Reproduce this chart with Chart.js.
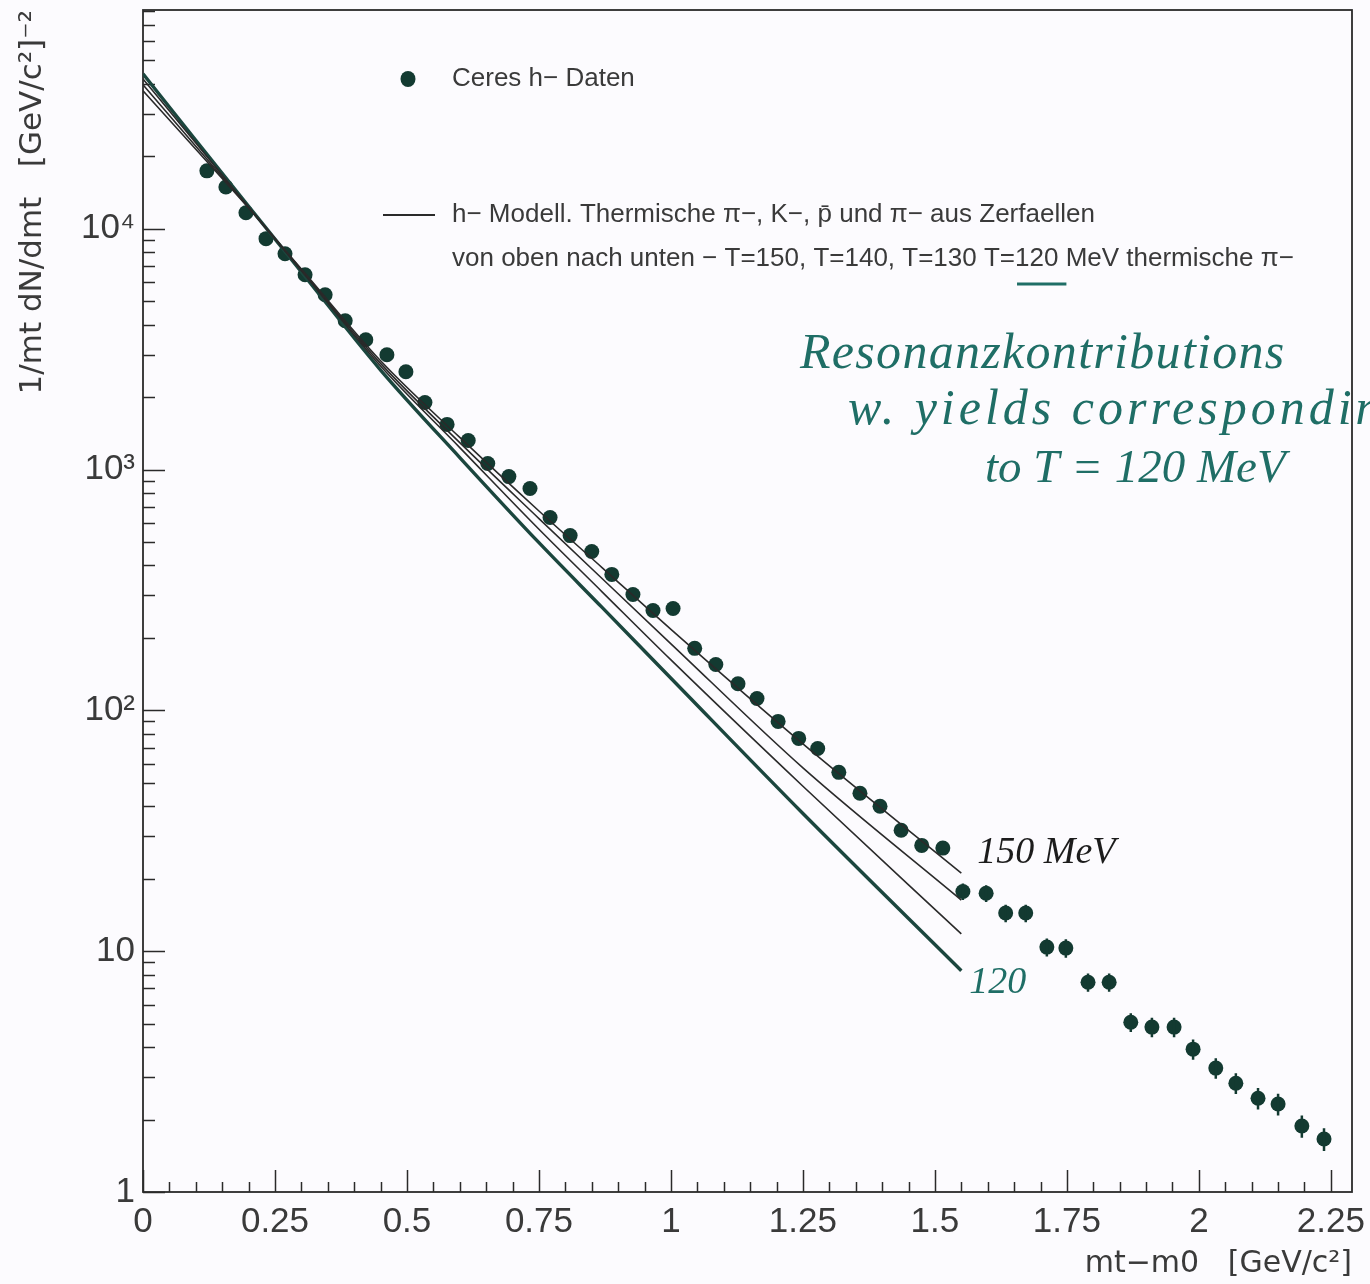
<!DOCTYPE html>
<html>
<head>
<meta charset="utf-8">
<script src="https://cdn.jsdelivr.net/npm/chart.js@4.4.1/dist/chart.umd.min.js"></script>
<style>
  html, body { margin: 0; padding: 0; background: #fcfbfe; }
  canvas { display: block; }
</style>
</head>
<body>
<canvas id="spectrum" width="1370" height="1284"></canvas>
<script>
// ---- axis ticks ----
const xTickValues = [0, 0.25, 0.5, 0.75, 1, 1.25, 1.5, 1.75, 2, 2.25];
const xTickLabels = ['0', '0.25', '0.5', '0.75', '1', '1.25', '1.5', '1.75', '2', '2.25'];
const yTickValues = [1, 10, 100, 1000, 10000];
const yTickLabels = ['1', '10', '10²', '10³', '10⁴'];

// ---- CERES h- data: mt-m0 [GeV/c^2], 1/mt dN/dmt, error ----
const ceresX = [0.121, 0.157, 0.195, 0.233, 0.269, 0.307, 0.345, 0.383, 0.422, 0.462,
                0.498, 0.534, 0.576, 0.616, 0.653, 0.693, 0.733, 0.771, 0.809, 0.850,
                0.888, 0.928, 0.966, 1.004, 1.045, 1.085, 1.127, 1.163, 1.203, 1.242,
                1.278, 1.318, 1.358, 1.396, 1.436, 1.475, 1.515, 1.553, 1.597, 1.634,
                1.672, 1.712, 1.748, 1.790, 1.830, 1.871, 1.911, 1.953, 1.989, 2.032,
                2.070, 2.112, 2.150, 2.195, 2.237];
const ceresY = [17400, 14900, 11650, 9100, 7870, 6440, 5320, 4150, 3460, 3000,
                2550, 1900, 1540, 1320, 1060, 935, 834, 632, 532, 457,
                367, 303, 260, 265, 181, 155, 129, 112, 90, 76.5,
                69.5, 55.3, 45.3, 40, 31.8, 27.5, 26.8, 17.7, 17.4, 14.4,
                14.4, 10.4, 10.3, 7.43, 7.43, 5.07, 4.84, 4.84, 3.92, 3.27,
                2.83, 2.45, 2.32, 1.88, 1.66];
const ceresErr = [0, 0, 0, 0, 0, 0, 0, 0, 0, 0,
                  0, 0, 0, 0, 0, 0, 0, 0, 0, 0,
                  0, 0, 0, 0, 0, 0, 0, 0, 0, 0,
                  0, 0, 0, 0, 0, 0, 0, 1.4, 1.4, 1.2,
                  1.2, 0.9, 0.9, 0.65, 0.65, 0.45, 0.45, 0.45, 0.38, 0.32,
                  0.28, 0.25, 0.24, 0.2, 0.18];

// ---- h- model: thermal pi-, K-, pbar plus pi- from resonance decays ----
const modelX    = [0, 0.1, 0.2, 0.3, 0.45, 0.6, 0.75, 0.87, 1.0, 1.25, 1.55];
const modelT150 = [37400, 21400, 12200, 6800, 2830, 1360, 673, 391, 217, 72.6, 21.1];
const modelT140 = [39600, 22000, 12250, 6750, 2760, 1294, 626, 352, 189, 57.7, 16.3];
const modelT130 = [41900, 22700, 12300, 6700, 2690, 1234, 565, 310, 162, 48.4, 11.8];
const modelT120 = [44000, 23300, 12400, 6620, 2590, 1122, 497, 267, 136, 37.3, 8.3];

const legendData  = 'Ceres h\u2212 Daten';
const legendModel = 'h\u2212 Modell. Thermische \u03C0\u2212, K\u2212, p\u0304 und \u03C0\u2212 aus Zerfaellen';
const legendOrderPrefix = 'von oben nach unten \u2212 T=150, T=140, T=130 T=';
const legendOrderMark   = '120';
const legendOrderSuffix = ' MeV thermische \u03C0\u2212';

const noteLines = ['Resonanzkontributions', 'w. yields corresponding', 'to T = 120 MeV'];
const noteTop = '150 MeV';
const noteBottom = '120';

const INK = '#2a2a2a';
const TEXT = '#3a3a3a';
const DOT = '#133a31';
const PEN = '#1f6e66';
const FONT = '"Liberation Sans", Arial, sans-serif';
const WIDE = '"DejaVu Sans", Verdana, sans-serif';
const HAND = '"Liberation Serif", "DejaVu Serif", serif';

const pts = (xs, ys) => xs.map((x, i) => ({ x: x, y: ys[i] }));

const modelLine = (ys, color, width) => ({
  type: 'line',
  data: pts(modelX, ys),
  borderColor: color,
  borderWidth: width,
  pointRadius: 0,
  fill: false,
  tension: 0.4,
  cubicInterpolationMode: 'monotone'
});

// Frame plus inward-pointing major/minor ticks on the bottom and left axes
const framePlugin = {
  id: 'frame',
  beforeDatasetsDraw(chart) {
    const { ctx, chartArea: a, scales: { x, y } } = chart;
    ctx.save();
    ctx.strokeStyle = INK;
    ctx.lineWidth = 1.8;
    ctx.strokeRect(a.left, a.top, a.right - a.left, a.bottom - a.top);
    ctx.lineWidth = 1.5;
    ctx.beginPath();
    for (let k = 0; k * 0.05 <= x.max + 1e-9; k++) {
      const px = Math.round(x.getPixelForValue(k * 0.05)) + 0.5;
      const len = k % 5 === 0 ? 22 : 10;
      ctx.moveTo(px, a.bottom);
      ctx.lineTo(px, a.bottom - len);
    }
    for (let d = 0; d <= 4; d++) {
      for (let m = 1; m <= 9; m++) {
        const v = m * Math.pow(10, d);
        if (v > y.max) continue;
        const py = Math.round(y.getPixelForValue(v)) + 0.5;
        const len = m === 1 ? 22 : 12;
        ctx.moveTo(a.left, py);
        ctx.lineTo(a.left + len, py);
      }
    }
    ctx.stroke();
    ctx.restore();
  }
};

// Vertical error bars on the data points
const errorBarPlugin = {
  id: 'errorBars',
  afterDatasetsDraw(chart) {
    const { ctx, scales: { x, y } } = chart;
    ctx.save();
    ctx.strokeStyle = DOT;
    ctx.lineWidth = 2.5;
    ctx.beginPath();
    ceresX.forEach((vx, i) => {
      const e = ceresErr[i];
      if (!e) return;
      const px = x.getPixelForValue(vx);
      ctx.moveTo(px, y.getPixelForValue(ceresY[i] - e));
      ctx.lineTo(px, y.getPixelForValue(ceresY[i] + e));
    });
    ctx.stroke();
    ctx.restore();
  }
};

// Legend block and pen notes
const notesPlugin = {
  id: 'notes',
  afterDraw(chart) {
    const { ctx, chartArea: a, scales: { x, y } } = chart;
    ctx.save();
    // legend
    ctx.fillStyle = DOT;
    ctx.beginPath();
    ctx.ellipse(a.left + 265, a.top + 69, 7.5, 8, 0, 0, Math.PI * 2);
    ctx.fill();
    ctx.fillStyle = TEXT;
    ctx.font = '26px ' + FONT;
    ctx.textBaseline = 'middle';
    ctx.textAlign = 'left';
    const tx = a.left + 309;
    ctx.fillText(legendData, tx, a.top + 69);
    ctx.strokeStyle = INK;
    ctx.lineWidth = 1.8;
    ctx.beginPath();
    ctx.moveTo(a.left + 240, a.top + 205);
    ctx.lineTo(a.left + 292, a.top + 205);
    ctx.stroke();
    ctx.fillText(legendModel, tx, a.top + 205);
    ctx.fillText(legendOrderPrefix + legendOrderMark + legendOrderSuffix, tx, a.top + 249);
    const u0 = tx + ctx.measureText(legendOrderPrefix).width;
    const u1 = u0 + ctx.measureText(legendOrderMark).width;
    ctx.strokeStyle = PEN;
    ctx.lineWidth = 3;
    ctx.beginPath();
    ctx.moveTo(u0 + 2, a.top + 274);
    ctx.lineTo(u1 + 8, a.top + 274);
    ctx.stroke();

    // pen annotations
    ctx.textBaseline = 'alphabetic';
    ctx.fillStyle = PEN;
    ctx.font = 'italic 50px ' + HAND;
    ctx.letterSpacing = '1.3px';
    ctx.fillText(noteLines[0], 800, 368);
    ctx.letterSpacing = '4px';
    ctx.fillText(noteLines[1], 848, 424);
    ctx.letterSpacing = '0px';
    ctx.font = 'italic 47px ' + HAND;
    ctx.fillText(noteLines[2], 985, 482);

    const lastX = x.getPixelForValue(modelX[modelX.length - 1]);
    ctx.fillStyle = '#1c1c1c';
    ctx.font = 'italic 38px ' + HAND;
    ctx.fillText(noteTop, lastX + 16, y.getPixelForValue(modelT150[modelT150.length - 1]) - 10);
    ctx.fillStyle = PEN;
    ctx.fillText(noteBottom, lastX + 8, y.getPixelForValue(modelT120[modelT120.length - 1]) + 22);
    ctx.restore();
  }
};

new Chart(document.getElementById('spectrum'), {
  type: 'scatter',
  data: {
    datasets: [
      modelLine(modelT150, INK, 1.6),
      modelLine(modelT140, INK, 1.6),
      modelLine(modelT130, INK, 1.6),
      modelLine(modelT120, '#1b463e', 3.4),
      {
        type: 'scatter',
        data: pts(ceresX, ceresY),
        pointRadius: 7.5,
        pointHoverRadius: 7.5,
        backgroundColor: DOT,
        borderWidth: 0
      }
    ]
  },
  options: {
    responsive: false,
    devicePixelRatio: 1,
    animation: false,
    events: [],
    layout: { padding: { top: 10, right: 18, left: 0, bottom: 0 } },
    plugins: { legend: { display: false }, tooltip: { enabled: false } },
    scales: {
      x: {
        type: 'linear',
        min: 0,
        max: 2.29,
        grid: { display: false, drawTicks: false },
        border: { display: false },
        afterBuildTicks(scale) { scale.ticks = xTickValues.map(v => ({ value: v })); },
        afterFit(scale) {
          scale.height = 92;
          scale.paddingLeft = 0; scale.paddingRight = 0;
          scale.paddingTop = 0; scale.paddingBottom = 0;
        },
        ticks: {
          autoSkip: false,
          maxRotation: 0,
          padding: 9,
          color: TEXT,
          font: { family: FONT, size: 35 },
          callback(v) { const i = xTickValues.indexOf(v); return i >= 0 ? xTickLabels[i] : ''; }
        },
        title: {
          display: true,
          text: 'mt\u2212m0   [GeV/c\u00B2]',
          align: 'end',
          color: TEXT,
          font: { family: WIDE, size: 30 },
          padding: { top: 0, bottom: 2 }
        }
      },
      y: {
        type: 'logarithmic',
        min: 1,
        max: 81000,
        grid: { display: false, drawTicks: false },
        border: { display: false },
        afterBuildTicks(scale) { scale.ticks = yTickValues.map(v => ({ value: v })); },
        afterFit(scale) {
          scale.width = 143;
          scale.paddingLeft = 0; scale.paddingRight = 0;
          scale.paddingTop = 0; scale.paddingBottom = 0;
        },
        ticks: {
          autoSkip: false,
          padding: 8,
          color: TEXT,
          font: { family: FONT, size: 35 },
          callback(v) { const i = yTickValues.indexOf(v); return i >= 0 ? yTickLabels[i] : ''; }
        },
        title: {
          display: true,
          text: '1/mt dN/dmt   [GeV/c\u00B2]\u207B\u00B2',
          align: 'end',
          color: TEXT,
          font: { family: WIDE, size: 31 },
          padding: { top: 14, bottom: 0 }
        }
      }
    }
  },
  plugins: [framePlugin, errorBarPlugin, notesPlugin]
});
</script>
</body>
</html>
